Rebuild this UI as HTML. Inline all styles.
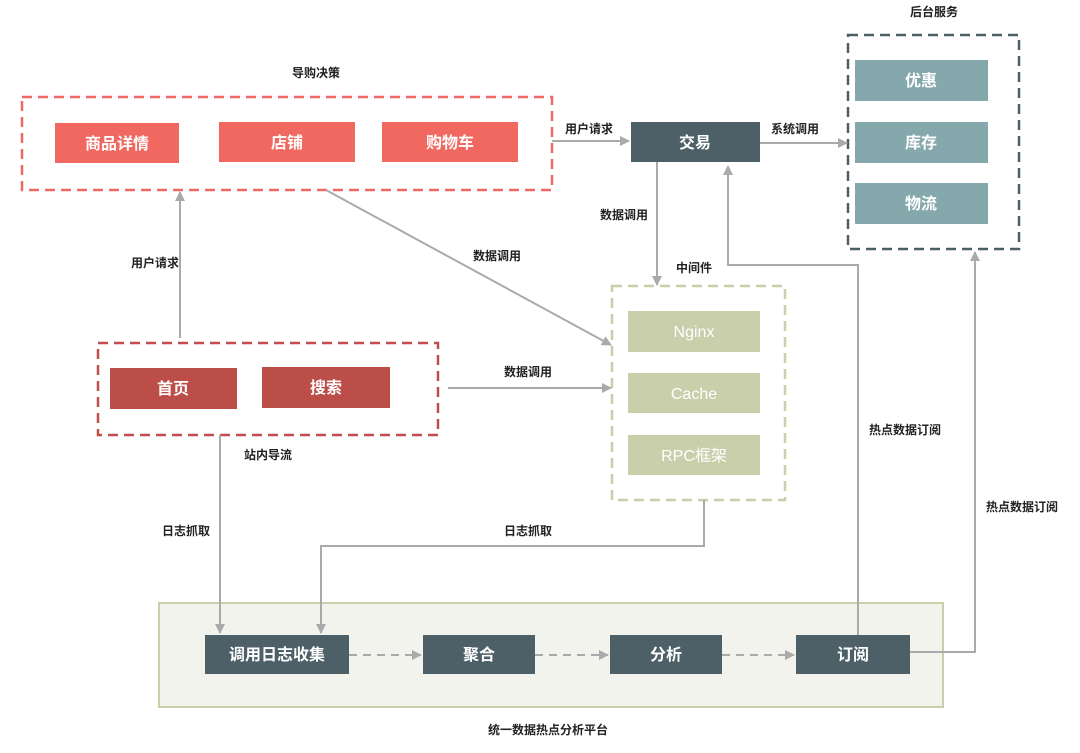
<!DOCTYPE html>
<html><head><meta charset="utf-8"><style>
html,body{margin:0;padding:0;background:#fff;}
svg{display:block;font-family:"Liberation Sans","Noto Sans CJK SC",sans-serif;}
.l{font-size:12px;font-weight:bold;fill:#222;text-anchor:middle;}
.b{font-size:16px;font-weight:bold;fill:#fff;text-anchor:middle;}
.ln{stroke:#aaa;stroke-width:2;fill:none;}
</style></head><body>
<svg width="1080" height="753" viewBox="0 0 1080 753">
<defs><marker id="a" markerWidth="10" markerHeight="10" refX="9" refY="5" orient="auto" markerUnits="userSpaceOnUse"><path d="M0,0 L10,5 L0,10 z" fill="#aaa"/></marker></defs>
<rect x="22" y="97" width="530" height="93" fill="none" stroke="#ee6a66" stroke-width="2.5" stroke-dasharray="10,6"/>
<rect x="98" y="343" width="340" height="92" fill="none" stroke="#c04e4b" stroke-width="2.5" stroke-dasharray="10,6"/>
<rect x="848" y="35" width="171" height="214" fill="none" stroke="#4d6068" stroke-width="2.5" stroke-dasharray="10,6"/>
<rect x="612" y="286" width="173" height="214" fill="none" stroke="#c9cfab" stroke-width="2.5" stroke-dasharray="10,6"/>
<rect x="159" y="603" width="784" height="104" fill="#f3f3ee" stroke="#c9cfab" stroke-width="2"/>
<text class="l" x="316" y="77">导购决策</text>
<text class="l" x="934" y="16">后台服务</text>
<text class="l" x="694" y="272">中间件</text>
<text class="l" x="548" y="734">统一数据热点分析平台</text>
<text class="l" x="155" y="267">用户请求</text>
<text class="l" x="497" y="260">数据调用</text>
<text class="l" x="528" y="376">数据调用</text>
<text class="l" x="589" y="133">用户请求</text>
<text class="l" x="795" y="133">系统调用</text>
<text class="l" x="624" y="219">数据调用</text>
<text class="l" x="268" y="459">站内导流</text>
<text class="l" x="186" y="535">日志抓取</text>
<text class="l" x="528" y="535">日志抓取</text>
<text class="l" x="905" y="434">热点数据订阅</text>
<text class="l" x="1022" y="511">热点数据订阅</text>
<rect x="55" y="123" width="124" height="40" fill="#f0685f"/><text class="b" x="117" y="149">商品详情</text>
<rect x="219" y="122" width="136" height="40" fill="#f0685f"/><text class="b" x="287" y="148">店铺</text>
<rect x="382" y="122" width="136" height="40" fill="#f0685f"/><text class="b" x="450" y="148">购物车</text>
<rect x="110" y="368" width="127" height="41" fill="#bb4e49"/><text class="b" x="173" y="394">首页</text>
<rect x="262" y="367" width="128" height="41" fill="#bb4e49"/><text class="b" x="326" y="393">搜索</text>
<rect x="631" y="122" width="129" height="40" fill="#4d6068"/><text class="b" x="695" y="148">交易</text>
<rect x="855" y="60" width="133" height="41" fill="#85a8ad"/><text class="b" x="921" y="86">优惠</text>
<rect x="855" y="122" width="133" height="41" fill="#85a8ad"/><text class="b" x="921" y="148">库存</text>
<rect x="855" y="183" width="133" height="41" fill="#85a8ad"/><text class="b" x="921" y="209">物流</text>
<rect x="628" y="311" width="132" height="41" fill="#c9cfab"/><text class="b" x="694" y="337" style="font-weight:normal">Nginx</text>
<rect x="628" y="373" width="132" height="40" fill="#c9cfab"/><text class="b" x="694" y="399" style="font-weight:normal">Cache</text>
<rect x="628" y="435" width="132" height="40" fill="#c9cfab"/><text class="b" x="694" y="461" style="font-weight:normal">RPC框架</text>
<rect x="205" y="635" width="144" height="39" fill="#4d6068"/><text class="b" x="277" y="660">调用日志收集</text>
<rect x="423" y="635" width="112" height="39" fill="#4d6068"/><text class="b" x="479" y="660">聚合</text>
<rect x="610" y="635" width="112" height="39" fill="#4d6068"/><text class="b" x="666" y="660">分析</text>
<rect x="796" y="635" width="114" height="39" fill="#4d6068"/><text class="b" x="853" y="660">订阅</text>
<path class="ln" d="M180,338 V192" marker-end="url(#a)"/>
<path class="ln" d="M326,190 L611,345" marker-end="url(#a)"/>
<path class="ln" d="M448,388 H611" marker-end="url(#a)"/>
<path class="ln" d="M552,141 H629" marker-end="url(#a)"/>
<path class="ln" d="M760,143 H847" marker-end="url(#a)"/>
<path class="ln" d="M657,162 V285" marker-end="url(#a)"/>
<path class="ln" d="M858,635 V265 H728 V166" marker-end="url(#a)"/>
<path class="ln" d="M910,652 H975 V252" marker-end="url(#a)"/>
<path class="ln" d="M220,435 V633" marker-end="url(#a)"/>
<path class="ln" d="M704,500 V546 H321 V633" marker-end="url(#a)"/>
<path class="ln" d="M349,655 H421" stroke-dasharray="8,6" marker-end="url(#a)"/>
<path class="ln" d="M535,655 H608" stroke-dasharray="8,6" marker-end="url(#a)"/>
<path class="ln" d="M722,655 H794" stroke-dasharray="8,6" marker-end="url(#a)"/>
</svg>
</body></html>
